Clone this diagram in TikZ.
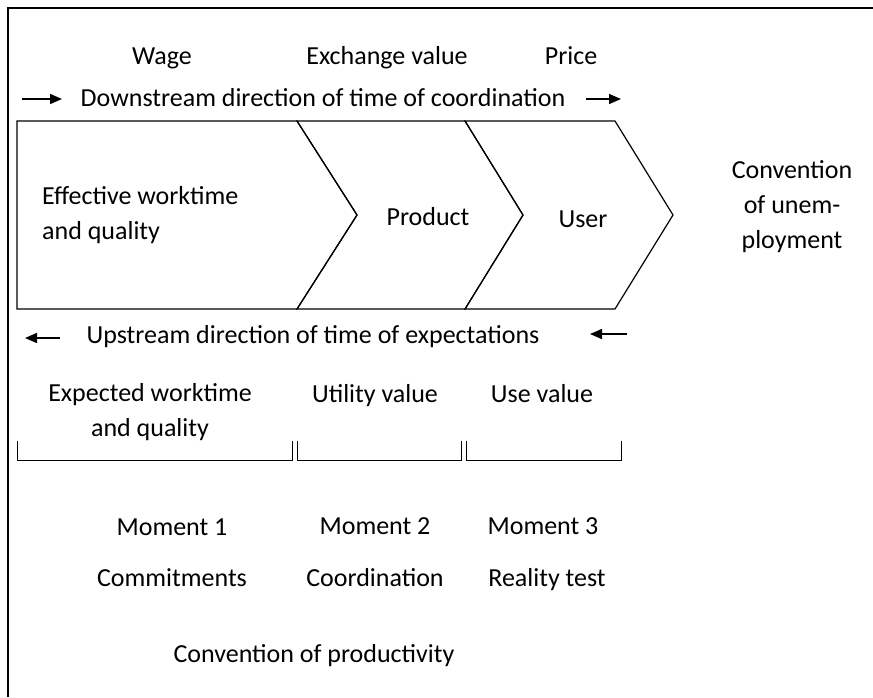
\documentclass[tikz,border=0pt]{standalone}
\usepackage{fontspec}
\setmainfont{Carlito}
\usetikzlibrary{arrows.meta}
\tikzset{
  lbl/.style={font=\fontsize{26}{35}\selectfont, inner sep=0pt},
  one/.style={lbl, text height=0.7em, text depth=0.25em, yshift=-6pt},
  flow/.style={-{Triangle[length=12pt,width=10pt]}, line width=1.5pt},
  chev/.style={draw, line width=1.2pt, line join=miter},
  brk/.style={draw, line width=1pt},
}
\begin{document}
\begin{tikzpicture}[x=1pt,y=-1pt]
   \useasboundingbox (0,0) rectangle (873,697);
   % frame
   \draw[line width=1.2pt] (8,697) -- (8,8) -- (873,8);
   % value chain
   \draw[chev] (17,121) -- (297,121) -- (357,215) -- (297,309) -- (17,309) -- cycle;
   \draw[chev] (297,121) -- (465,121) -- (523,215) -- (465,309) -- (297,309) -- (357,215) -- cycle;
   \draw[chev] (465,121) -- (615,121) -- (673,215) -- (615,309) -- (465,309) -- (523,215) -- cycle;
   \node[lbl, anchor=west, align=left] (work) at (42,215) {Effective worktime\\and quality};
   \node[one] (prod) at (428,217) {Product};
   \node[one] (user) at (583,219) {User};
   \node[lbl, align=center] (unemp) at (792,207) {Convention\\of unem-\\ployment};
   % top row
   \node[one] (wage) at (162,56) {Wage};
   \node[one] (exch) at (387,56) {Exchange value};
   \node[one] (price) at (571,56) {Price};
   \node[one] (down) at (323,98) {Downstream direction of time of coordination};
   \coordinate (dsA) at (22,99);
   \coordinate (dsB) at (62,99);
   \coordinate (dsC) at (586,99);
   \coordinate (dsD) at (621,99);
   \draw[flow] (dsA) -- (dsB);
   \draw[flow] (dsC) -- (dsD);
   % bottom rows
   \node[one] (up) at (313,335) {Upstream direction of time of expectations};
   \coordinate (usA) at (60,338);
   \coordinate (usB) at (25,338);
   \coordinate (usC) at (627,334);
   \coordinate (usD) at (590,334);
   \draw[flow] (usA) -- (usB);
   \draw[flow] (usC) -- (usD);
   \node[lbl, align=center] (expect) at (150,412) {Expected worktime\\and quality};
   \node[one] (util) at (375,394) {Utility value};
   \node[one] (use) at (542,394) {Use value};
   \draw[brk] (17,441) -- (17,460) -- (292,460) -- (292,441);
   \draw[brk] (297,441) -- (297,460) -- (461,460) -- (461,441);
   \draw[brk] (466,441) -- (466,460) -- (621,460) -- (621,441);
   \node[one] (mom1) at (172,527) {Moment 1};
   \node[one] (mom2) at (375,526) {Moment 2};
   \node[one] (mom3) at (543,526) {Moment 3};
   \node[one] (commit) at (172,578) {Commitments};
   \node[one] (coord) at (375,578) {Coordination};
   \node[one] (real) at (547,578) {Reality test};
   \node[one] (prodty) at (314,654) {Convention of productivity};
\end{tikzpicture}
\end{document}
